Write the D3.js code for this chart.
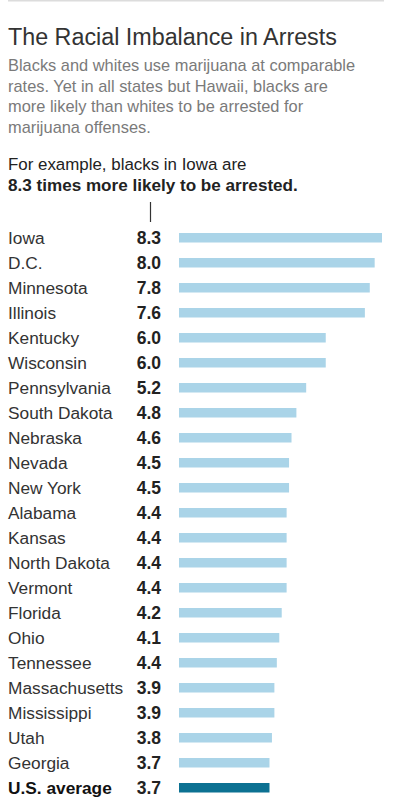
<!DOCTYPE html>
<html><head><meta charset="utf-8">
<script src="https://cdn.jsdelivr.net/npm/d3@7"></script>
<style>
body{margin:0;background:#fff;}
svg{display:block;}
</style></head>
<body>
<script>
const states = ["Iowa","D.C.","Minnesota","Illinois","Kentucky","Wisconsin","Pennsylvania","South Dakota","Nebraska","Nevada","New York","Alabama","Kansas","North Dakota","Vermont","Florida","Ohio","Tennessee","Massachusetts","Mississippi","Utah","Georgia","U.S. average"];
const valueLabels = ["8.3","8.0","7.8","7.6","6.0","6.0","5.2","4.8","4.6","4.5","4.5","4.4","4.4","4.4","4.4","4.2","4.1","4.4","3.9","3.9","3.8","3.7","3.7"];
const barValues = [8.3,8.0,7.8,7.6,6.0,6.0,5.2,4.8,4.6,4.5,4.5,4.4,4.4,4.4,4.4,4.2,4.1,4.0,3.9,3.9,3.8,3.7,3.7];
const title = "The Racial Imbalance in Arrests";
const subtitle = ["Blacks and whites use marijuana at comparable","rates. Yet in all states but Hawaii, blacks are","more likely than whites to be arrested for","marijuana offenses."];
const annotation = ["For example, blacks in Iowa are","8.3 times more likely to be arrested."];

const W = 395, H = 801;
const font = "'Liberation Sans', Arial, sans-serif";
const svg = d3.select("body").append("svg").attr("width", W).attr("height", H);

svg.append("rect").attr("x",8).attr("y",0).attr("width",376).attr("height",1.5).attr("fill","#dcdcdc");

svg.append("text").attr("x",8).attr("y",45).text(title)
  .attr("font-family",font).attr("font-size",23.3).attr("fill","#333").attr("font-weight",300);

svg.selectAll("text.sub").data(subtitle).join("text").attr("class","sub")
  .attr("x",8).attr("y",(d,i)=>71+i*20.7).text(d=>d)
  .attr("font-family",font).attr("font-size",16.4).attr("fill","#7a7a7a");

svg.selectAll("text.ann").data(annotation).join("text").attr("class","ann")
  .attr("x",8).attr("y",(d,i)=>170+i*21).text(d=>d)
  .attr("font-family",font).attr("font-size",(d,i)=>i===1?17.1:16.9).attr("fill","#222")
  .attr("font-weight",(d,i)=>i===1?"bold":"normal");

svg.append("line").attr("x1",150.5).attr("x2",150.5).attr("y1",202).attr("y2",222)
  .attr("stroke","#333").attr("stroke-width",1.2);

const y = d3.scaleBand().domain(states).range([225, 800]);
const x = d3.scaleLinear().domain([0, 8.3]).range([179, 382]);

const rows = svg.selectAll("g.row").data(states).join("g").attr("class","row")
  .attr("transform", d=>`translate(0,${y(d)+y.bandwidth()/2})`);

rows.append("text").attr("x",8).attr("dy","0.36em").text(d=>d)
  .attr("font-family",font).attr("font-size",17.3)
  .attr("fill",(d,i)=>i===states.length-1?"#111":"#333")
  .attr("font-weight",(d,i)=>i===states.length-1?"bold":"normal");

rows.append("text").attr("x",161).attr("dy","0.36em").attr("text-anchor","end")
  .text((d,i)=>valueLabels[i])
  .attr("font-family",font).attr("font-size",17.5).attr("font-weight","bold").attr("fill","#222");

rows.append("rect").attr("x",x(0)).attr("y",-4.5).attr("height",9.5)
  .attr("width",(d,i)=>x(barValues[i])-x(0))
  .attr("fill",(d,i)=>i===states.length-1?"#0c7192":"#aad4e8");
</script>
</body></html>
